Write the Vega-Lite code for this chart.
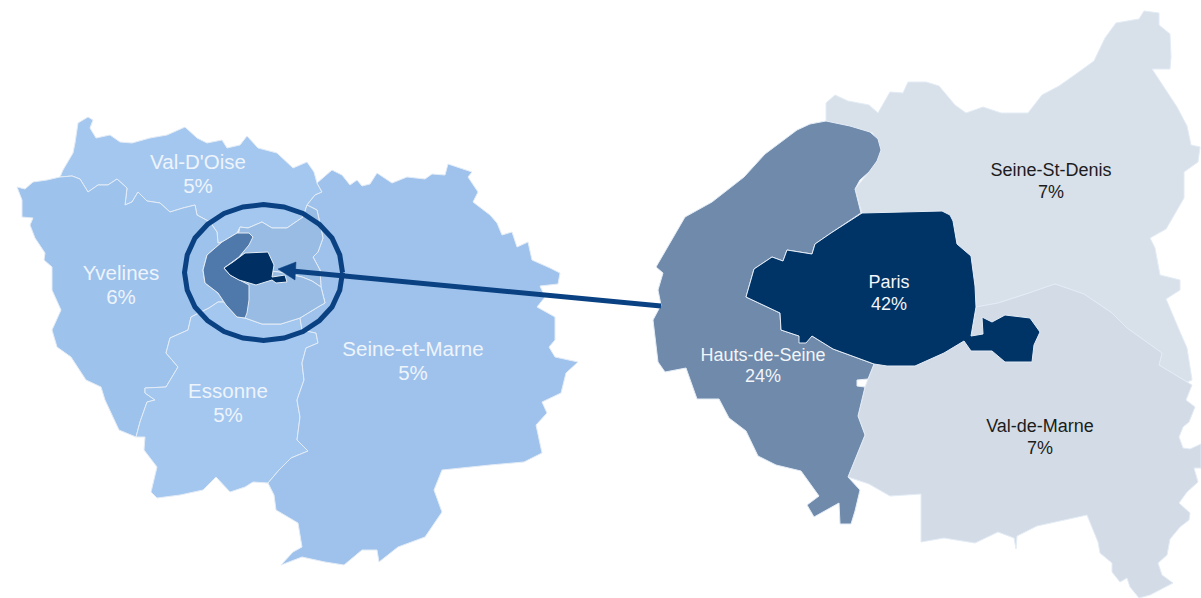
{"$schema":"https://vega.github.io/schema/vega-lite/v6.json","width":1201,"height":598,"padding":0,"autosize":"none","background":"white","view":{"stroke":null},
"projection":{"type":"identity","scale":1,"translate":[0,0]},
"resolve":{"scale":{"color":"independent"}},
"layer":[
{"data":{"values":[
{"type":"Feature","properties":{"name":"Val-D'Oise"},"geometry":{"type":"Polygon","coordinates":[[[60,177],[63,170],[73,153],[75,143],[78,123],[88,117],[93,120],[90,128],[96,138],[110,135],[120,142],[132,143],[150,138],[167,135],[185,127],[197,138],[207,143],[222,140],[227,148],[240,145],[247,136],[258,148],[277,153],[293,168],[307,162],[314,172],[317,183],[322,192],[315,195],[307,205],[303,217],[287,228],[272,228],[262,222],[248,228],[240,227],[237,233],[222,242],[218,243],[217,232],[210,222],[197,215],[195,205],[183,208],[170,212],[160,203],[147,201],[138,192],[132,202],[125,205],[127,188],[117,179],[108,185],[98,185],[88,192],[80,179],[72,176],[60,177]]]}},
{"type":"Feature","properties":{"name":"Yvelines"},"geometry":{"type":"Polygon","coordinates":[[[60,177],[47,180],[33,182],[25,189],[17,187],[22,200],[22,217],[33,218],[30,225],[35,238],[45,253],[44,260],[52,267],[52,290],[61,310],[52,330],[57,347],[71,357],[86,380],[101,387],[105,400],[119,430],[136,437],[140,422],[147,402],[155,400],[145,393],[145,388],[166,387],[178,367],[166,353],[170,338],[188,330],[191,317],[209,308],[218,302],[224,302],[218,293],[205,283],[203,270],[207,255],[222,242],[218,243],[217,232],[210,222],[197,215],[195,205],[183,208],[170,212],[160,203],[147,201],[138,192],[132,202],[125,205],[127,188],[117,179],[108,185],[98,185],[88,192],[80,179],[72,176],[60,177]]]}},
{"type":"Feature","properties":{"name":"Essonne"},"geometry":{"type":"Polygon","coordinates":[[[218,302],[224,302],[237,317],[245,318],[262,324],[281,324],[300,318],[302,330],[316,333],[318,343],[306,348],[302,363],[304,380],[297,400],[300,417],[297,440],[308,451],[291,458],[279,470],[268,483],[253,482],[245,487],[230,492],[216,477],[203,490],[180,495],[157,498],[151,492],[157,467],[144,450],[145,437],[136,437],[140,422],[147,402],[155,400],[145,393],[145,388],[166,387],[178,367],[166,353],[170,338],[188,330],[191,317],[209,308],[218,302]]]}},
{"type":"Feature","properties":{"name":"Seine-et-Marne"},"geometry":{"type":"Polygon","coordinates":[[[317,183],[332,170],[342,175],[350,185],[357,180],[362,186],[370,184],[377,173],[392,183],[407,177],[425,179],[432,174],[445,175],[448,164],[472,172],[468,177],[478,192],[473,202],[490,215],[497,223],[502,235],[512,232],[517,247],[528,242],[532,260],[550,268],[560,273],[558,284],[540,286],[545,297],[537,307],[555,317],[555,340],[549,347],[555,357],[578,362],[566,373],[561,393],[542,402],[547,413],[536,425],[542,453],[524,462],[490,465],[442,470],[434,490],[442,512],[425,537],[398,547],[379,562],[377,550],[362,550],[344,565],[325,562],[302,557],[281,565],[293,552],[302,547],[298,523],[276,510],[274,495],[268,483],[279,470],[291,458],[308,451],[297,440],[300,417],[297,400],[304,380],[302,363],[306,348],[318,343],[316,333],[302,330],[300,318],[318,307],[325,303],[321,287],[320,270],[313,257],[318,252],[323,238],[317,210],[307,205],[315,195],[322,192],[317,183]]]}},
{"type":"Feature","properties":{"name":"Seine-St-Denis (carte)"},"geometry":{"type":"Polygon","coordinates":[[[240,227],[248,228],[262,222],[272,228],[287,228],[303,217],[307,205],[317,210],[323,238],[318,252],[313,257],[320,270],[321,287],[312,281],[302,277],[279,272],[260,270],[245,262],[237,240],[240,227]]]}},
{"type":"Feature","properties":{"name":"Val-de-Marne (carte)"},"geometry":{"type":"Polygon","coordinates":[[[279,272],[302,277],[312,281],[321,287],[325,303],[318,307],[300,318],[281,324],[262,324],[245,318],[240,300],[240,270],[260,270],[279,272]]]}},
{"type":"Feature","properties":{"name":"Hauts-de-Seine (carte)"},"geometry":{"type":"Polygon","coordinates":[[[237,233],[249,233],[253,237],[249,245],[239,257],[224,268],[230,275],[249,285],[249,300],[247,313],[245,318],[237,317],[226,305],[218,293],[205,283],[203,270],[207,255],[222,242],[237,233]]]}},
{"type":"Feature","properties":{"name":"Paris (carte)"},"geometry":{"type":"Polygon","coordinates":[[[224,268],[233,262],[245,253],[268,252],[274,265],[272,277],[285,275],[287,282],[276,283],[272,280],[256,285],[239,280],[230,275],[224,268]]]}},
{"type":"Feature","properties":{"name":"Seine-St-Denis"},"geometry":{"type":"Polygon","coordinates":[[[826,103],[835,95],[848,101],[869,105],[878,113],[890,92],[903,93],[908,82],[926,82],[939,86],[955,105],[966,113],[983,107],[1001,113],[1028,113],[1042,95],[1059,86],[1076,74],[1094,61],[1105,38],[1116,23],[1139,19],[1144,11],[1159,13],[1159,25],[1170,34],[1171,57],[1170,69],[1152,69],[1177,107],[1187,126],[1191,145],[1200,147],[1198,162],[1184,172],[1184,198],[1173,217],[1166,229],[1150,238],[1155,248],[1160,275],[1180,280],[1180,290],[1166,299],[1180,332],[1187,348],[1192,380],[1187,382],[1159,365],[1162,353],[1127,328],[1112,313],[1084,294],[1055,284],[1026,294],[998,303],[976,307],[975,286],[971,256],[957,244],[953,221],[942,212],[862,213],[855,189],[869,172],[880,149],[873,133],[826,121],[826,103]]]}},
{"type":"Feature","properties":{"name":"Val-de-Marne"},"geometry":{"type":"Polygon","coordinates":[[[976,307],[998,303],[1026,294],[1055,284],[1084,294],[1112,313],[1127,328],[1162,353],[1159,365],[1187,382],[1192,385],[1186,400],[1195,407],[1189,422],[1183,427],[1179,437],[1183,448],[1190,449],[1201,444],[1201,468],[1194,468],[1198,482],[1187,492],[1179,503],[1190,513],[1189,520],[1180,527],[1170,539],[1167,555],[1158,563],[1162,575],[1173,583],[1150,595],[1139,598],[1130,587],[1127,578],[1120,582],[1112,572],[1112,563],[1100,553],[1098,542],[1087,515],[1037,526],[1017,536],[1016,549],[1014,538],[998,532],[975,543],[944,538],[921,542],[921,494],[890,496],[869,484],[848,477],[865,435],[858,416],[865,387],[874,364],[915,366],[944,353],[964,341],[971,336],[976,307]]]}},
{"type":"Feature","properties":{"name":"Hauts-de-Seine"},"geometry":{"type":"Polygon","coordinates":[[[826,121],[850,126],[870,132],[878,139],[881,150],[877,161],[869,172],[860,180],[855,189],[861,213],[831,233],[815,244],[812,254],[787,250],[783,261],[772,257],[754,269],[746,297],[780,313],[781,330],[799,336],[812,336],[833,349],[874,364],[868,379],[857,380],[857,386],[865,387],[858,416],[865,435],[848,477],[860,490],[855,511],[851,524],[840,524],[839,503],[814,517],[807,505],[819,496],[801,471],[776,465],[758,456],[746,431],[729,418],[719,399],[697,399],[686,368],[665,372],[658,362],[653,320],[661,305],[658,290],[663,273],[656,267],[674,236],[685,217],[712,202],[744,177],[765,154],[797,130],[810,124],[826,121]]]}},
{"type":"Feature","properties":{"name":"Paris"},"geometry":{"type":"Polygon","coordinates":[[[862,213],[942,211],[950,215],[953,221],[957,244],[971,256],[975,286],[976,307],[971,336],[983,334],[982,317],[992,322],[1005,315],[1030,318],[1040,332],[1034,345],[1032,362],[1005,362],[992,351],[971,351],[964,341],[944,353],[915,366],[887,366],[874,364],[833,349],[812,336],[806,343],[799,343],[799,336],[781,330],[780,313],[746,297],[754,269],[772,257],[783,261],[787,250],[812,254],[815,244],[831,233],[862,213]]]}}
]},
"mark":{"type":"geoshape","stroke":"#E3ECF6","strokeWidth":1},
"encoding":{"color":{"field":"properties.name","type":"nominal","legend":null,"sort":null,
"scale":{"domain":["Val-D'Oise","Yvelines","Essonne","Seine-et-Marne","Seine-St-Denis (carte)","Val-de-Marne (carte)","Hauts-de-Seine (carte)","Paris (carte)","Seine-St-Denis","Val-de-Marne","Hauts-de-Seine","Paris"],
"range":["#A4C7EF","#9DC2EC","#A4C7EF","#9EC2EC","#98BCE4","#98BCE4","#5079AB","#003063","#D8E0E9","#D3DCE6","#6F8AAB","#003366"]}}}},
{"data":{"values":[
{"type":"Feature","properties":{"name":"Loupe"},"geometry":{"type":"LineString","coordinates":[[342.5,272.5],[339.8,290],[332,307],[319.5,320.5],[303,331.5],[284,338],[263.5,340.5],[243,338],[224,331.5],[207.5,320.5],[195,307],[187.2,290],[184.5,272.5],[187.2,255],[195,238],[207.5,224.5],[224,213.5],[243,207],[263.5,204.5],[284,207],[303,213.5],[319.5,224.5],[332,238],[339.8,255],[342.5,272.5]]}},
{"type":"Feature","properties":{"name":"Flèche"},"geometry":{"type":"LineString","coordinates":[[661,306],[292,271]]}}
]},
"mark":{"type":"geoshape","filled":false,"stroke":"#0A4182","strokeWidth":5}},
{"data":{"values":[
{"type":"Feature","properties":{"name":"Pointe"},"geometry":{"type":"Polygon","coordinates":[[[278,269],[296,262],[295,280],[278,269]]]}}
]},
"mark":{"type":"geoshape","fill":"#0A4182","stroke":"#0A4182","strokeWidth":0.5}},
{"data":{"values":[
{"label":"Val-D'Oise","lon":198,"lat":163},{"label":"5%","lon":198,"lat":187},
{"label":"Yvelines","lon":121,"lat":274},{"label":"6%","lon":121,"lat":298},
{"label":"Essonne","lon":228,"lat":392},{"label":"5%","lon":228,"lat":416},
{"label":"Seine-et-Marne","lon":413,"lat":350},{"label":"5%","lon":413,"lat":374}
]},
"mark":{"type":"text","font":"Liberation Sans","fontSize":20.5,"color":"#EEF4FB","align":"center","baseline":"middle"},
"encoding":{"longitude":{"field":"lon","type":"quantitative"},"latitude":{"field":"lat","type":"quantitative"},"text":{"field":"label"}}},
{"data":{"values":[
{"label":"Seine-St-Denis","lon":1051,"lat":171,"tone":"sombre"},{"label":"7%","lon":1051,"lat":193,"tone":"sombre"},
{"label":"Val-de-Marne","lon":1040,"lat":427,"tone":"sombre"},{"label":"7%","lon":1040,"lat":449,"tone":"sombre"},
{"label":"Paris","lon":889,"lat":283,"tone":"clair"},{"label":"42%","lon":889,"lat":305,"tone":"clair"},
{"label":"Hauts-de-Seine","lon":763,"lat":356,"tone":"clair"},{"label":"24%","lon":763,"lat":377,"tone":"clair"}
]},
"mark":{"type":"text","font":"Liberation Sans","fontSize":18,"align":"center","baseline":"middle"},
"encoding":{"longitude":{"field":"lon","type":"quantitative"},"latitude":{"field":"lat","type":"quantitative"},"text":{"field":"label"},
"color":{"field":"tone","type":"nominal","legend":null,"scale":{"domain":["sombre","clair"],"range":["#1C1C1C","#F2F5F9"]}}}}
]}
